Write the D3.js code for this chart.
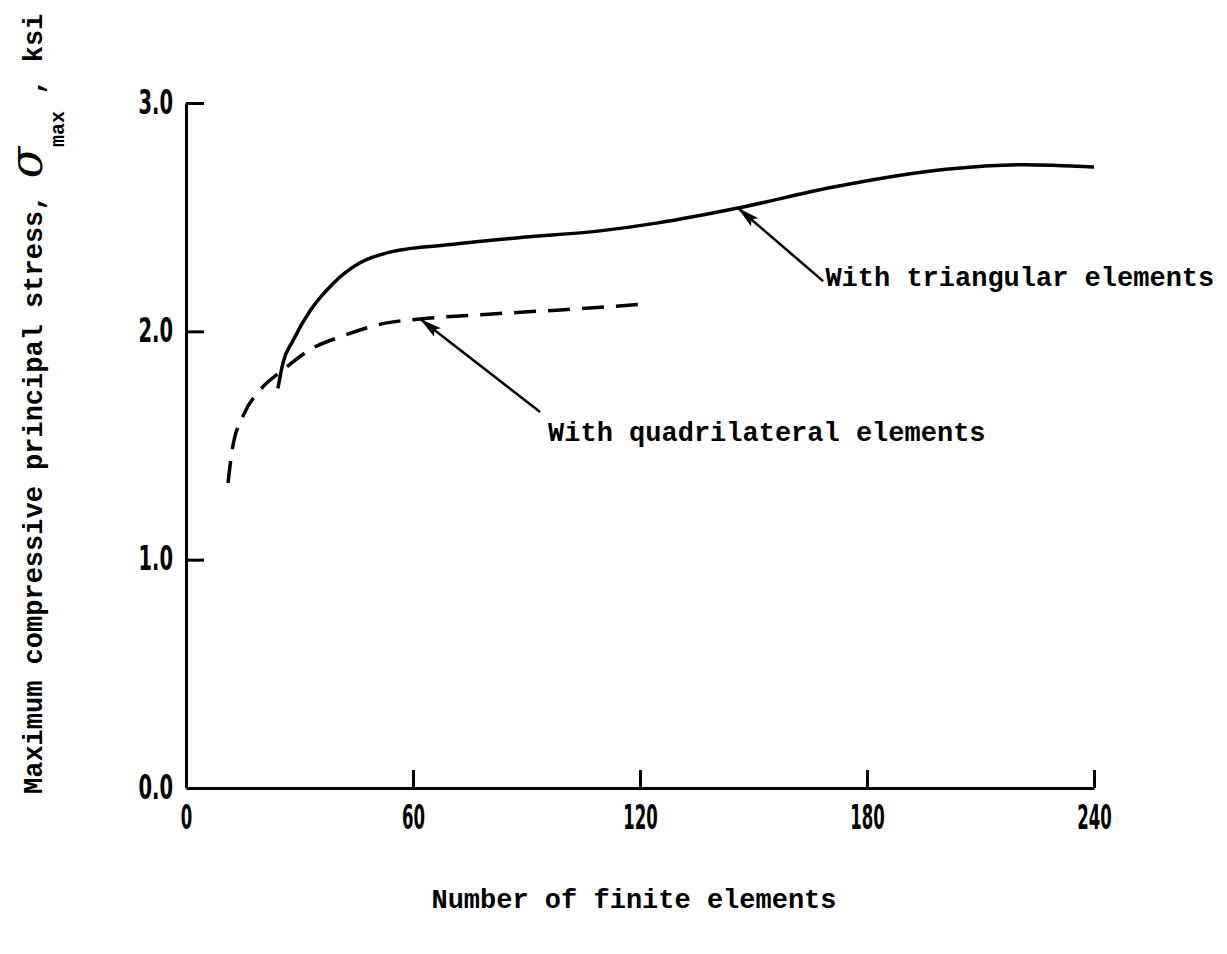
<!DOCTYPE html>
<html>
<head>
<meta charset="utf-8">
<script src="https://cdn.jsdelivr.net/npm/d3@7"></script>
<style>
	body { margin: 0; background: #fff; }
	svg { display: block; }
	.tick text { font-family: "DejaVu Sans", sans-serif; font-weight: bold; font-size: 34px; }
	.lbl { font-family: "Liberation Mono", "DejaVu Sans Mono", monospace; font-weight: bold; font-size: 27px; }
</style>
</head>
<body>
<svg id="vis" width="1227" height="954"></svg>
<script>
// x ticks / y ticks
var xTicks = [0, 60, 120, 180, 240];
var yTicks = [0, 1, 2, 3];

// triangular elements (solid)
var triX = [24.3, 25.6, 28.3, 32.8, 38.9, 46.0, 54.7, 70, 88, 109.4, 124.8, 145.9, 170.5, 200.9, 221.2, 240];
var triY = [1.75, 1.86, 1.96, 2.09, 2.21, 2.30, 2.35, 2.38, 2.41, 2.44, 2.475, 2.54, 2.63, 2.71, 2.73, 2.72];

// quadrilateral elements (dashed)
var quadX = [11.1, 12.2, 15.1, 19.6, 25.6, 32.8, 41.5, 53.1, 61.9, 80, 100, 122];
var quadY = [1.336, 1.48, 1.63, 1.743, 1.83, 1.92, 1.98, 2.037, 2.054, 2.075, 2.095, 2.12];

// annotations: arrow tip, arrow tail, text position (data units)
var notes = [
	{ text: "With triangular elements", tip: [145.9, 2.54], tail: [168.4, 2.22], at: [169.0, 2.2] },
	{ text: "With quadrilateral elements", tip: [61.9, 2.054], tail: [93.6, 1.647], at: [95.7, 1.52] }
];

var svg = d3.select("#vis");
var x = d3.scaleLinear().domain([0, 240]).range([186, 1094]);
var y = d3.scaleLinear().domain([0, 3]).range([788, 103]);

var xAxis = svg.append("g")
	.attr("transform", "translate(0,788)")
	.call(d3.axisBottom(x).tickValues(xTicks).tickFormat(d3.format("d")).tickSizeInner(-18).tickSizeOuter(0).tickPadding(31));
var yAxis = svg.append("g")
	.attr("transform", "translate(186,0)")
	.call(d3.axisLeft(y).tickValues(yTicks).tickFormat(d3.format(".1f")).tickSizeInner(-18).tickSizeOuter(0).tickPadding(13));
svg.selectAll(".domain, .tick line").attr("stroke", "#000").attr("stroke-width", 3);
xAxis.selectAll(".tick line").filter(d => d === 0).remove();
yAxis.selectAll(".tick line").filter(d => d === 0).remove();
xAxis.selectAll(".tick text").attr("dy", "0.3em");
yAxis.selectAll(".tick text").attr("dy", "0.3em");
// narrow, tall digits like the original lettering
svg.selectAll(".tick text")
	.attr("fill", "#000")
	.attr("lengthAdjust", "spacingAndGlyphs")
	.attr("textLength", function() { return this.textContent.length * 11.5; });

var line = d3.line().x(d => x(d[0])).y(d => y(d[1])).curve(d3.curveMonotoneX);

svg.append("path")
	.datum(d3.zip(triX, triY))
	.attr("d", line)
	.attr("fill", "none").attr("stroke", "#000").attr("stroke-width", 3.5);

svg.append("path")
	.datum(d3.zip(quadX, quadY))
	.attr("d", line)
	.attr("fill", "none").attr("stroke", "#000").attr("stroke-width", 3.5)
	.attr("stroke-dasharray", "22,12");

svg.append("defs").append("marker")
	.attr("id", "head")
	.attr("viewBox", "0 0 20 10")
	.attr("refX", 20).attr("refY", 5)
	.attr("markerWidth", 22).attr("markerHeight", 11)
	.attr("markerUnits", "userSpaceOnUse")
	.attr("orient", "auto")
	.append("path").attr("d", "M0,0L20,5L0,10L4,5Z").attr("fill", "#000");

notes.forEach(n => {
	svg.append("line")
		.attr("x1", x(n.tail[0])).attr("y1", y(n.tail[1]))
		.attr("x2", x(n.tip[0])).attr("y2", y(n.tip[1]))
		.attr("stroke", "#000").attr("stroke-width", 2.5)
		.attr("marker-end", "url(#head)");
	svg.append("text")
		.attr("class", "lbl")
		.attr("x", x(n.at[0])).attr("y", y(n.at[1]))
		.text(n.text);
});

// axis titles
svg.append("text")
	.attr("class", "lbl")
	.attr("font-size", 26)
	.attr("x", 634).attr("y", 908)
	.attr("text-anchor", "middle")
	.text("Number of finite elements");

var yt = svg.append("text")
	.attr("class", "lbl")
	.attr("font-size", 26)
	.attr("transform", "translate(42,794) rotate(-90)");
yt.append("tspan").text("Maximum compressive principal stress, ");
yt.append("tspan").attr("font-family", "DejaVu Serif, serif").attr("font-style", "italic").attr("font-weight", "normal").attr("font-size", 46).text("σ");
yt.append("tspan").attr("dy", 22).attr("font-size", 20).text("max");
yt.append("tspan").attr("dy", -22).text(" , ksi");
</script>
</body>
</html>
